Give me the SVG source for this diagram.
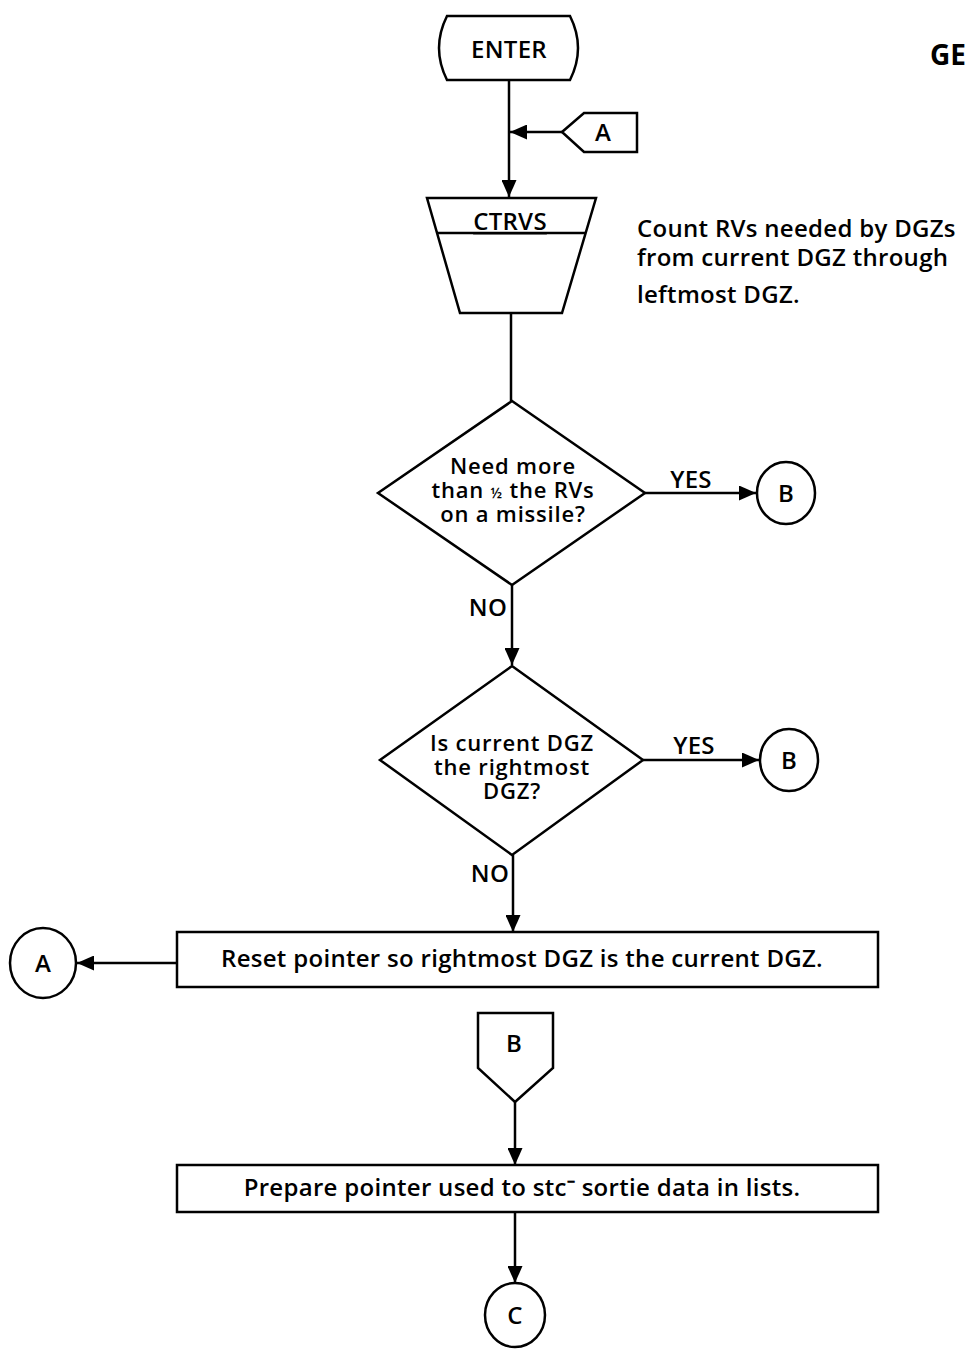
<svg xmlns="http://www.w3.org/2000/svg" width="967" height="1356" viewBox="0 0 967 1356">
<style>
.s{fill:#fff;stroke:#000;stroke-width:2.5}
.l{fill:none;stroke:#000;stroke-width:2.5}
text{font-family:"Open Sans","Liberation Sans",sans-serif;font-weight:600;font-size:24px;letter-spacing:0.3px;fill:#000}
.m{text-anchor:middle}
.d{font-size:22px;letter-spacing:0.8px}
.f{font-size:14px}
</style>
<defs>
<marker id="ah2" viewBox="0 0 10 10" refX="10" refY="5" markerWidth="17" markerHeight="15" markerUnits="userSpaceOnUse" orient="auto" preserveAspectRatio="none">
<path d="M0,0 L10,5 L0,10 z" fill="#000"/>
</marker>
</defs>
<text x="930" y="65" style="font-size:28px;font-weight:700;letter-spacing:0">GE</text>
<g id="connectors">
<line class="l" x1="509" y1="80" x2="509" y2="197" marker-end="url(#ah2)"/>
<line class="l" x1="562" y1="132" x2="510" y2="132" marker-end="url(#ah2)"/>
<line class="l" x1="511" y1="313" x2="511" y2="401"/>
<line class="l" x1="645" y1="493" x2="756" y2="493" marker-end="url(#ah2)"/>
<text x="691" y="488" class="m">YES</text>
<line class="l" x1="512" y1="585" x2="512" y2="665" marker-end="url(#ah2)"/>
<text x="488" y="616" class="m">NO</text>
<line class="l" x1="643" y1="760" x2="759" y2="760" marker-end="url(#ah2)"/>
<text x="694" y="754" class="m">YES</text>
<line class="l" x1="513" y1="855" x2="513" y2="932" marker-end="url(#ah2)"/>
<text x="490" y="882" class="m">NO</text>
<line class="l" x1="177" y1="963" x2="77" y2="963" marker-end="url(#ah2)"/>
<line class="l" x1="515" y1="1102" x2="515" y2="1165" marker-end="url(#ah2)"/>
<line class="l" x1="515" y1="1212" x2="515" y2="1283" marker-end="url(#ah2)"/>
</g>
<g id="enter">
<path class="s" d="M447,16 L570,16 Q586,48 570,80 L447,80 Q431,48 447,16 Z"/>
<text x="509" y="58" class="m">ENTER</text>
</g>
<g id="offpageA">
<path class="s" d="M562,132 L584,113 L637,113 L637,152 L584,152 Z"/>
<text x="603" y="141" class="m">A</text>
</g>
<g id="ctrvs">
<path class="s" d="M427,198 L596,198 L562,313 L460,313 Z"/>
<line class="l" x1="437" y1="233" x2="586" y2="233"/>
<text x="510" y="230" class="m" text-decoration="underline">CTRVS</text>
</g>
<g id="note">
<text x="637" y="237">Count RVs needed by DGZs</text>
<text x="637" y="266">from current DGZ through</text>
<text x="637" y="303">leftmost DGZ.</text>
</g>
<g id="decision1">
<path class="s" d="M512,401 L645,493 L512,585 L378,493 Z"/>
<text class="m d"><tspan x="513" y="474">Need more</tspan><tspan x="513" y="498">than <tspan class="f">½</tspan> the RVs</tspan><tspan x="513" y="522">on a missile?</tspan></text>
</g>
<g id="B1">
<ellipse class="s" cx="786" cy="493" rx="29" ry="31"/>
<text x="786" y="502" class="m">B</text>
</g>
<g id="decision2">
<path class="s" d="M512,666 L643,760 L512,855 L380,760 Z"/>
<text class="m d"><tspan x="512" y="751">Is current DGZ</tspan><tspan x="512" y="775">the rightmost</tspan><tspan x="512" y="799">DGZ?</tspan></text>
</g>
<g id="B2">
<ellipse class="s" cx="789" cy="760" rx="29" ry="31"/>
<text x="789" y="769" class="m">B</text>
</g>
<g id="reset">
<rect class="s" x="177" y="932" width="701" height="55"/>
<text x="522" y="967" class="m">Reset pointer so rightmost DGZ is the current DGZ.</text>
</g>
<g id="A2">
<ellipse class="s" cx="43" cy="963" rx="33" ry="35"/>
<text x="43" y="972" class="m">A</text>
</g>
<g id="offpageB">
<path class="s" d="M478,1013 L553,1013 L553,1068 L515,1102 L478,1068 Z"/>
<text x="514" y="1052" class="m">B</text>
</g>
<g id="prepare">
<rect class="s" x="177" y="1165" width="701" height="47"/>
<text x="522" y="1196" class="m">Prepare pointer used to stc⁻ sortie data in lists.</text>
</g>
<g id="C">
<ellipse class="s" cx="515" cy="1315" rx="30" ry="32"/>
<text x="515" y="1324" class="m">C</text>
</g>
</svg>
